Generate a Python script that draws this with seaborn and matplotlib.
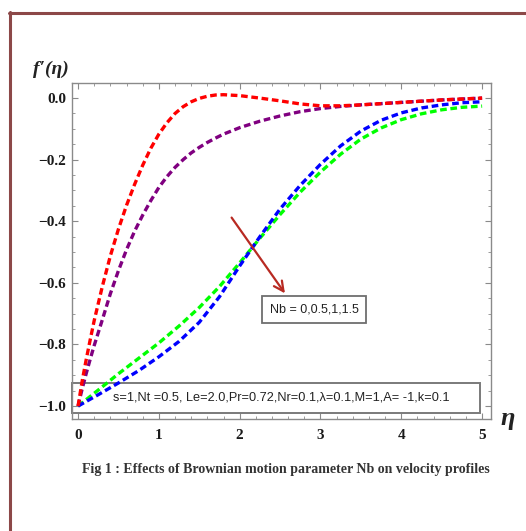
import numpy as np
import pandas as pd
import matplotlib
matplotlib.use("Agg")
import matplotlib.pyplot as plt
from matplotlib.lines import Line2D
from matplotlib.patches import Rectangle
from matplotlib.ticker import MultipleLocator, FixedLocator
import seaborn as sns

# ---------------- data ----------------
# fine grid for the two steep curves (red, purple)
eta_rp = [0, 0.05, 0.1, 0.15, 0.2, 0.3, 0.4, 0.5, 0.6, 0.7, 0.8, 0.9, 1.0, 1.1, 1.2,
          1.3, 1.4, 1.5, 1.6, 1.7, 1.8, 2.0, 2.25, 2.5, 2.75, 3.0, 3.25, 3.5, 3.75,
          4.0, 4.25, 4.5, 4.75, 5.0]

f_red = [-1.0, -0.92, -0.85, -0.785, -0.722, -0.612, -0.512, -0.425, -0.348, -0.28,
         -0.218, -0.163, -0.117, -0.08, -0.05, -0.028, -0.012, -0.001, 0.006, 0.01,
         0.011, 0.008, 0.0, -0.009, -0.019, -0.025, -0.025, -0.022, -0.018,
         -0.014, -0.010, -0.006, -0.003, 0.0]

f_purple = [-1.0, -0.945, -0.895, -0.848, -0.803, -0.72, -0.635, -0.56, -0.492, -0.432,
            -0.38, -0.333, -0.29, -0.255, -0.225, -0.2, -0.178, -0.16, -0.144, -0.13,
            -0.117, -0.096, -0.075, -0.058, -0.044, -0.034, -0.027, -0.022, -0.018,
            -0.014, -0.010, -0.006, -0.003, 0.0]

# grid for the two slow curves (green, blue)
eta_gb = [0, 0.25, 0.5, 0.75, 1.0, 1.25, 1.5, 1.75, 2.0, 2.25, 2.5, 2.75, 3.0,
          3.25, 3.5, 3.75, 4.0, 4.25, 4.5, 4.75, 5.0]

f_green = [-1.0, -0.948, -0.895, -0.845, -0.795, -0.74, -0.68, -0.612, -0.535, -0.455,
           -0.378, -0.305, -0.24, -0.182, -0.133, -0.097, -0.07, -0.051, -0.038,
           -0.03, -0.026]

f_blue = [-1.0, -0.963, -0.925, -0.885, -0.84, -0.79, -0.728, -0.645, -0.545, -0.45,
          -0.36, -0.283, -0.215, -0.155, -0.107, -0.072, -0.048, -0.032, -0.022,
          -0.015, -0.012]

series_colors = {"green": "#00FF00", "blue": "#0000FF", "purple": "#800080", "red": "#FF0000"}

x_ticks = [0, 1, 2, 3, 4, 5]
y_ticks = [0.0, -0.2, -0.4, -0.6, -0.8, -1.0]
y_tick_labels = ["0.0", "\u22120.2", "\u22120.4", "\u22120.6", "\u22120.8", "\u22121.0"]

nb_label = "Nb = 0,0.5,1,1.5"
param_label = "s=1,Nt =0.5, Le=2.0,Pr=0.72,Nr=0.1,\u03bb=0.1,M=1,A= -1,k=0.1"
caption = "Fig 1 : Effects of Brownian motion parameter Nb on velocity profiles"

frames = [
    pd.DataFrame({"eta": eta_gb, "f": f_green, "series": "green"}),
    pd.DataFrame({"eta": eta_gb, "f": f_blue, "series": "blue"}),
    pd.DataFrame({"eta": eta_rp, "f": f_purple, "series": "purple"}),
    pd.DataFrame({"eta": eta_rp, "f": f_red, "series": "red"}),
]

# ---------------- figure ----------------
sns.set_style("white")
plt.rcParams["font.family"] = ["Liberation Serif", "DejaVu Serif"]

fig = plt.figure(figsize=(5.26, 5.31), dpi=100)
ax = fig.add_axes([72 / 526, 1 - 419 / 531, (491 - 72) / 526, (419 - 83) / 531])

for sub in frames:
    name = sub["series"].iloc[0]
    sns.lineplot(data=sub, x="eta", y="f", ax=ax, color=series_colors[name],
                 linewidth=2.4, linestyle=(0, (2.0, 1.1)), legend=False,
                 estimator=None, sort=False)

ax.set_xlim(-0.075, 5.11)
ax.set_ylim(-1.042, 0.049)
ax.set_xlabel("")
ax.set_ylabel("")

frame_col = "#8a8a8a"
for s in ax.spines.values():
    s.set_visible(True)
    s.set_color(frame_col)
    s.set_linewidth(1.0)

ax.xaxis.set_major_locator(FixedLocator(x_ticks))
ax.xaxis.set_minor_locator(MultipleLocator(0.2))
ax.yaxis.set_major_locator(FixedLocator(y_ticks))
ax.yaxis.set_minor_locator(MultipleLocator(0.05))
ax.set_yticklabels(y_tick_labels)
ax.tick_params(which="both", direction="in", top=True, right=True,
               bottom=True, left=True, color=frame_col)
ax.tick_params(which="major", length=4, width=0.8)
ax.tick_params(which="minor", length=2, width=0.6)
ax.tick_params(axis="x", which="major", pad=7, labelsize=11)
ax.tick_params(axis="y", which="major", pad=4, labelsize=11)
for lab in ax.get_xticklabels() + ax.get_yticklabels():
    lab.set_fontweight("bold")
    lab.set_color("#1a1a1a")

# arrow
ax.annotate("", xy=(2.56, -0.634), xytext=(1.9, -0.388),
            arrowprops=dict(arrowstyle="->,head_length=0.7,head_width=0.35",
                            color="#B82A22", lw=1.6, shrinkA=0, shrinkB=0))

# Nb box
ax.text(2.92, -0.687, nb_label, ha="center", va="center", fontsize=9,
        family=["Liberation Sans", "DejaVu Sans"], color="#222222",
        bbox=dict(boxstyle="square,pad=0.6", fc="white", ec="#6e6e6e", lw=1.3))

# parameter box
ax.add_patch(Rectangle((0.0, 0.018), 0.974, 0.089, transform=ax.transAxes,
                       fill=False, ec="#7a7a7a", lw=1.4, clip_on=False))
ax.text((281 - 72) / 419, 0.065, param_label, transform=ax.transAxes,
        ha="center", va="center", fontsize=9.2,
        family=["Liberation Sans", "DejaVu Sans"], color="#222222")

# axis labels
fig.text(51 / 526, 1 - 69 / 531, "f\u2032(\u03b7)", ha="center", va="center",
         fontsize=14, fontweight="bold", fontstyle="italic", color="#222222")
fig.text(508 / 526, 1 - 418 / 531, "\u03b7", ha="center", va="center",
         fontsize=19, fontweight="bold", fontstyle="italic", color="#222222")

# caption
fig.text(286 / 526, 1 - 470 / 531, caption, ha="center", va="center",
         fontsize=10, fontweight="bold", color="#333333")

# page border (top and left)
bcol = "#8C4848"
fig.add_artist(Line2D([9 / 526, 1.0], [1 - 13 / 531, 1 - 13 / 531],
                      transform=fig.transFigure, color=bcol, lw=2.2))
fig.add_artist(Line2D([10 / 526, 10 / 526], [1 - 12 / 531, 0.0],
                      transform=fig.transFigure, color=bcol, lw=2.2))

fig.savefig("out.png", dpi=100)
